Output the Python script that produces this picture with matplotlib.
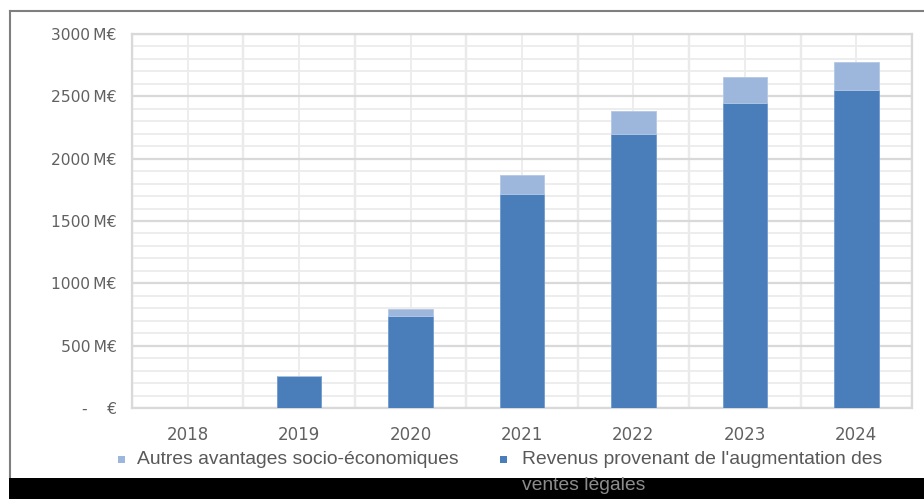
import matplotlib
matplotlib.use("Agg")
import matplotlib.pyplot as plt
from matplotlib.patches import Rectangle
from matplotlib.lines import Line2D
import numpy as np

years = ['2018', '2019', '2020', '2021', '2022', '2023', '2024']
revenus = [0, 258, 735, 1718, 2200, 2447, 2553]
autres = [0, 0, 58, 147, 179, 208, 219]
series_names = ["Autres avantages socio-économiques",
                "Revenus provenant de l'augmentation des ventes légales"]
y_ticks = [0, 500, 1000, 1500, 2000, 2500, 3000]
y_ticklabels = ['-    €', '500\u2009M€', '1000\u2009M€', '1500\u2009M€', '2000\u2009M€',
                '2500\u2009M€', '3000\u2009M€']

DARK = '#4A7EBB'
LIGHT = '#9CB7DB'
MAJOR = '#d9d9d9'
MINOR = '#ececec'
TXT = '#616161'

W, H = 924, 499
fig = plt.figure(figsize=(W / 100, H / 100), dpi=100)
fig.patch.set_facecolor('white')

def fx(px):
    return px / W

def fy(py):
    return 1 - py / H

ax = fig.add_axes([fx(132), fy(408), fx(912) - fx(132), fy(34) - fy(408)])
x = np.arange(len(years))
ax.set_xlim(-0.5, len(years) - 0.5)
ax.set_ylim(0, 3000)

# grid
ax.set_yticks(y_ticks)
ax.set_yticks(np.arange(0, 3001, 100), minor=True)
ax.set_xticks(x)
ax.set_xticks(np.arange(-0.5, len(years), 1.0), minor=True)
ax.grid(True, which='minor', color=MINOR, lw=1.3, zorder=0)
ax.grid(True, which='major', axis='y', color=MAJOR, lw=1.6, zorder=0)
ax.grid(True, which='major', axis='x', color=MINOR, lw=1.3, zorder=0)
for v in np.arange(-0.5, len(years), 1.0):
    ax.axvline(v, color=MAJOR, lw=1.6, zorder=0.5)
ax.set_axisbelow(True)
for s in ax.spines.values():
    s.set_color(MAJOR)
    s.set_linewidth(1.6)

bw = 0.4
ax.bar(x, revenus, width=bw, color=DARK, edgecolor='#6f9ad0', lw=0.6, zorder=3)
ax.bar(x, autres, width=bw, bottom=revenus, color=LIGHT, edgecolor='#b3c9e6', lw=0.6, zorder=3)

ax.set_yticklabels(y_ticklabels)
ax.set_xticklabels(years)
ax.tick_params(which='both', length=0)
ax.tick_params(axis='y', pad=11, labelsize=11.2, labelcolor=TXT)
ax.tick_params(axis='x', pad=13, labelsize=12, labelcolor=TXT)
for lbl in ax.get_yticklabels() + ax.get_xticklabels():
    lbl.set_family('DejaVu Sans')

# legend (manual)
leg_font = dict(family='Liberation Sans', size=13.9, color='#595959', va='center', ha='left')
fig.add_artist(Rectangle((fx(118), fy(463)), fx(125) - fx(118), fy(456) - fy(463),
                         transform=fig.transFigure, color=LIGHT, lw=0))
fig.text(fx(137), fy(460), series_names[0], **leg_font)
fig.add_artist(Rectangle((fx(500), fy(463)), fx(507) - fx(500), fy(456) - fy(463),
                         transform=fig.transFigure, color=DARK, lw=0))
first, second = "Revenus provenant de l'augmentation des", "ventes légales"
fig.text(fx(522), fy(460), first, **leg_font)

# black band and frame
fig.add_artist(Rectangle((fx(9), 0), 1 - fx(9), fy(478), transform=fig.transFigure,
                         color='black', lw=0, zorder=5))
fig.text(fx(522), fy(485), second, family='Liberation Sans', size=13.9, color='#8c8c8c',
         va='center', ha='left', zorder=6)
fig.add_artist(Line2D([fx(9.5), 1], [fy(10.5), fy(10.5)], transform=fig.transFigure,
                      color='#7f7f7f', lw=1.5))
fig.add_artist(Line2D([fx(9.5), fx(9.5)], [fy(10.5), fy(478)], transform=fig.transFigure,
                      color='#7f7f7f', lw=1.5))

fig.savefig('out.png', dpi=100, facecolor='white')
